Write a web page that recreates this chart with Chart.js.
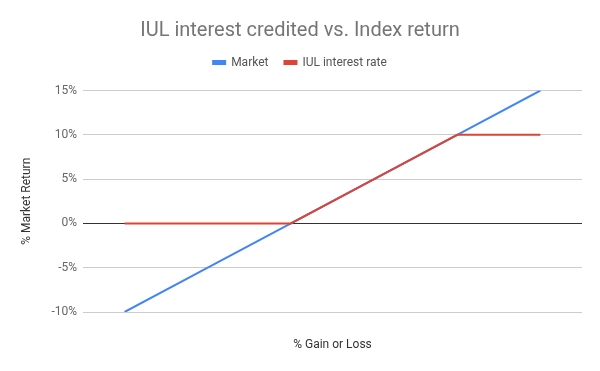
<!DOCTYPE html>
<html>
<head>
<meta charset="utf-8">
<script src="https://cdn.jsdelivr.net/npm/chart.js@4"></script>
<style>
  html, body { margin: 0; padding: 0; background: #fff; }
</style>
</head>
<body>
<canvas id="chart" width="600" height="371"></canvas>
<script>
// data
const gainLoss = ["-10%", "-5%", "0%", "5%", "10%", "15%"];
const market = [-10, -5, 0, 5, 10, 15];
const iulRate = [0, 0, 0, 5, 10, 10];
const yTicks = [-10, -5, 0, 5, 10, 15];

Chart.defaults.font.family = "Roboto";

// center title + legend on the whole canvas, pull legend up a bit
const headerFix = {
  id: "headerFix",
  afterLayout(chart) {
    chart.titleBlock.right += 18;
    chart.titleBlock.width += 18;
    chart.legend.right += 18;
    chart.legend.width += 18;
    chart.legend.top -= 12;
    chart.legend.bottom -= 12;
  }
};

const ctx = document.getElementById("chart").getContext("2d");
const myChart = new Chart(ctx, {
  type: "line",
  data: {
    labels: gainLoss,
    datasets: [
      {
        label: "Market",
        data: market,
        borderColor: "#4285F4",
        backgroundColor: "#4285F4",
        borderWidth: 2,
        pointRadius: 0,
        tension: 0,
        order: 1,
      },
      {
        label: "IUL interest rate",
        data: iulRate,
        borderColor: "#DB4437",
        backgroundColor: "#DB4437",
        borderWidth: 2,
        pointRadius: 0,
        tension: 0,
        order: 0,
      },
    ],
  },
  options: {
    responsive: false,
    animation: false,
    layout: { padding: { top: 0, right: 18, bottom: 0, left: 0 } },
    plugins: {
      title: {
        display: true,
        text: "IUL interest credited vs. Index return",
        color: "#757575",
        font: { size: 20, weight: "normal" },
        padding: { top: 18.5, bottom: 10 },
      },
      legend: {
        labels: {
          color: "#555",
          font: { size: 12 },
          boxWidth: 12,
          boxHeight: 3,
          padding: 16,
          sort: (a, b) => a.datasetIndex - b.datasetIndex,
        },
      },
      tooltip: { enabled: false },
    },
    scales: {
      x: {
        offset: true,
        grid: { display: false },
        border: { display: false },
        ticks: { display: false },
        title: {
          display: true,
          text: "% Gain or Loss",
          color: "#333",
          font: { size: 12 },
          padding: { top: 0, bottom: 19 },
        },
        afterFit(scale) {
          scale.height = 59;
        },
      },
      y: {
        min: -10,
        max: 15,
        afterBuildTicks(scale) {
          scale.ticks = yTicks.map((v) => ({ value: v }));
        },
        grid: {
          drawTicks: false,
          color: (c) => (c.tick && c.tick.value === 0 ? "#333" : "#ccc"),
        },
        border: { display: false },
        ticks: {
          color: "#666",
          font: { size: 12 },
          padding: 6,
          callback: (v) => v + "%",
        },
        title: {
          display: true,
          text: "% Market Return",
          color: "#333",
          font: { size: 12 },
          padding: { top: 20, bottom: 0 },
        },
        afterFit(scale) {
          scale.width = 83;
        },
      },
    },
  },
  plugins: [headerFix],
});
</script>
</body>
</html>
